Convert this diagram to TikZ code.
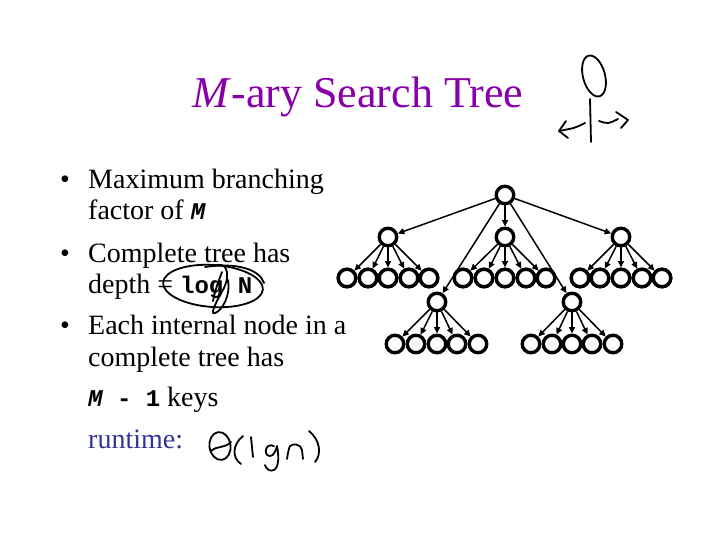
\documentclass[tikz,border=0pt]{standalone}
\usepackage{fontspec}
\setmainfont{Liberation Serif}
\setmonofont{Liberation Mono}
\usetikzlibrary{arrows.meta}
\definecolor{titlepurple}{RGB}{136,0,170}
\definecolor{runblue}{RGB}{51,51,153}
\newcommand{\monotxt}[1]{{\fontsize{24}{28}\selectfont\ttfamily\bfseries #1}}
\begin{document}
\begin{tikzpicture}[x=1pt,y=-1pt,
  txt/.style={anchor=base west, inner sep=0pt, font=\fontsize{28}{34}\selectfont},
  tnode/.style={circle, draw, line width=3.4pt, fill=white, minimum size=17.5pt, inner sep=0pt},
  edge/.style={line width=1.5pt, -{Triangle[length=6.5pt,width=6pt]}},
  ink/.style={line width=1.8pt, line cap=round, line join=round}]
\useasboundingbox (0,0) rectangle (720,540);

% title
\node[anchor=base, inner sep=0pt, font=\fontsize{44}{50}\selectfont, text=titlepurple] (title) at (358,108) {\textit{M}-ary Search Tree};

% bullets
\node[txt] (b1) at (60,189) {•};
\node[txt] (l1) at (88,189) {Maximum branching};
\node[txt] (l2) at (88,219) {factor of \monotxt{\itshape M}};
\node[txt] (b2) at (60,262) {•};
\node[txt] (l3) at (88,262) {Complete tree has};
\node[txt] (l4) at (88,293) {depth = \monotxt{log N}};
\node[txt] (b3) at (60,334) {•};
\node[txt] (l5) at (88,334) {Each internal node in a};
\node[txt] (l6) at (88,366) {complete tree has};
\node[txt] (l7) at (88,406) {\monotxt{{\itshape M} - 1} keys};
\node[txt, text=runblue] (l8) at (88,448) {runtime:};

% tree nodes
\node[tnode] (R) at (505,195) {};
\node[tnode] (A) at (388,237) {};
\node[tnode] (B) at (505,237) {};
\node[tnode] (C) at (621,237) {};
\node[tnode] (D) at (437,302) {};
\node[tnode] (E) at (572,302) {};

% edges from root
\foreach \c in {A,B,C,D,E} \draw[edge] (R) -- (\c);

% leaves
\foreach \p/\y/\xs in {A/278/{347,368,388,409,429}, B/278/{463,484,505,526,546}, C/278/{580,600,621,642,662}, D/344/{395,416,437,457,478}, E/344/{531,552,572,592,613}} {
  \foreach \x [count=\i] in \xs {
    \node[tnode] (\p\i) at (\x,\y) {};
    \draw[edge] (\p) -- (\p\i);
  }
}
% redraw upper leaves on top of the long root lines
\foreach \p/\y/\xs in {A/278/{347,368,388,409,429}, B/278/{463,484,505,526,546}, C/278/{580,600,621,642,662}} {
  \foreach \x [count=\i] in \xs {
    \node[tnode] (\p\i x) at (\x,\y) {};
  }
}

% stick figure
\draw[ink, rotate around={15:(594,76)}] (594,76) ellipse [x radius=11, y radius=21];
\draw[ink] (590,99) -- (591,142);
\draw[ink] (585,123) .. controls (575,128) .. (559,131);
\draw[ink] (566,121) -- (559,131) -- (568,138);
\draw[ink] (599,121) .. controls (608,124) .. (618,119);
\draw[ink] (616,112) -- (628,120) -- (621,128);

% ellipse around log N and subscript scribble
\draw[ink, rotate around={-4:(213,286)}] (213,286) ellipse [x radius=50, y radius=21];
\draw[ink] (205,267) .. controls (238,262) and (260,270) .. (264,283);
\draw[ink] (214,266) .. controls (226,261) and (231,272) .. (224,288) .. controls (217,300) and (209,316) .. (215,313) .. controls (222,311) and (231,295) .. (228,280);
\draw[ink] (213,301) .. controls (215,290) and (219,280) .. (222,272);

% Theta(lg n)
\draw[ink, rotate around={8:(220,446)}] (220,446) ellipse [x radius=10.5, y radius=14];
\draw[ink] (211,451) .. controls (218,445) and (224,449) .. (231,442);
\draw[ink] (243,436) .. controls (232,445) and (232,458) .. (241,464);
\draw[ink] (251,437) -- (253,457);
\draw[ink] (274,446) .. controls (265,442) and (263,456) .. (270,456) .. controls (274,456) and (276,450) .. (277,446) .. controls (279,456) and (279,467) .. (274,470) .. controls (270,472) and (266,469) .. (265,465);
\draw[ink] (287,459) .. controls (288,452) and (289,448) .. (290,446) .. controls (293,443) and (301,444) .. (302,450) -- (303,459);
\draw[ink] (309,431) .. controls (320,440) and (322,454) .. (315,462);
\end{tikzpicture}
\end{document}
